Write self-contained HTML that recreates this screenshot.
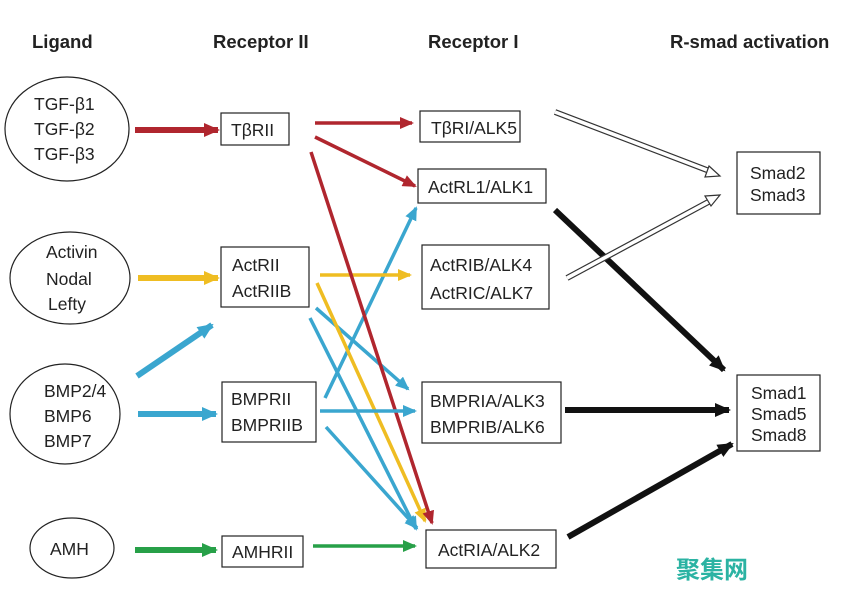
<!DOCTYPE html>
<html><head><meta charset="utf-8"><style>
body{margin:0;background:#fff}
svg text{font-family:"Liberation Sans",Arial,sans-serif;fill:#222}
</style></head><body>
<svg width="856" height="589" viewBox="0 0 856 589" xmlns="http://www.w3.org/2000/svg">
<defs>
<marker id="r" markerUnits="userSpaceOnUse" markerWidth="14" markerHeight="12" refX="12" refY="6" orient="auto"><path d="M0,0L14,6L0,12z" fill="#b0262e"/></marker>
<marker id="y" markerUnits="userSpaceOnUse" markerWidth="14" markerHeight="12" refX="12" refY="6" orient="auto"><path d="M0,0L14,6L0,12z" fill="#efbd22"/></marker>
<marker id="c" markerUnits="userSpaceOnUse" markerWidth="14" markerHeight="12" refX="12" refY="6" orient="auto"><path d="M0,0L14,6L0,12z" fill="#3aa6cf"/></marker>
<marker id="g" markerUnits="userSpaceOnUse" markerWidth="14" markerHeight="12" refX="12" refY="6" orient="auto"><path d="M0,0L14,6L0,12z" fill="#27a048"/></marker>
<marker id="k" markerUnits="userSpaceOnUse" markerWidth="16" markerHeight="14" refX="14" refY="7" orient="auto"><path d="M0,0L16,7L0,14z" fill="#111"/></marker>
<marker id="r2" markerUnits="userSpaceOnUse" markerWidth="16" markerHeight="14" refX="14" refY="7" orient="auto"><path d="M0,0L16,7L0,14z" fill="#b0262e"/></marker>
<marker id="y2" markerUnits="userSpaceOnUse" markerWidth="16" markerHeight="14" refX="14" refY="7" orient="auto"><path d="M0,0L16,7L0,14z" fill="#efbd22"/></marker>
<marker id="c2" markerUnits="userSpaceOnUse" markerWidth="16" markerHeight="14" refX="14" refY="7" orient="auto"><path d="M0,0L16,7L0,14z" fill="#3aa6cf"/></marker>
<marker id="g2" markerUnits="userSpaceOnUse" markerWidth="16" markerHeight="14" refX="14" refY="7" orient="auto"><path d="M0,0L16,7L0,14z" fill="#27a048"/></marker>
</defs>
<g font-weight="bold" font-size="18.5">
<text x="32" y="48">Ligand</text>
<text x="213" y="48">Receptor II</text>
<text x="428" y="48">Receptor I</text>
<text x="670" y="48">R-smad activation</text>
</g>
<g fill="none" stroke="#222" stroke-width="1.2">
<ellipse cx="67" cy="129" rx="62" ry="52"/>
<ellipse cx="70" cy="278" rx="60" ry="46"/>
<ellipse cx="65" cy="414" rx="55" ry="50"/>
<ellipse cx="72" cy="548" rx="42" ry="30"/>
<rect x="221" y="113" width="68" height="32"/>
<rect x="221" y="247" width="88" height="60"/>
<rect x="222" y="382" width="94" height="60"/>
<rect x="222" y="536" width="81" height="31"/>
<rect x="420" y="111" width="100" height="31"/>
<rect x="418" y="169" width="128" height="34"/>
<rect x="422" y="245" width="127" height="64"/>
<rect x="422" y="382" width="139" height="61"/>
<rect x="426" y="530" width="130" height="38"/>
<rect x="737" y="152" width="83" height="62"/>
<rect x="737" y="375" width="83" height="76"/>
</g>
<g font-size="17.5">
<text x="34" y="110">TGF-β1</text><text x="34" y="135">TGF-β2</text><text x="34" y="160">TGF-β3</text>
<text x="46" y="258">Activin</text><text x="46" y="285">Nodal</text><text x="48" y="310">Lefty</text>
<text x="44" y="397">BMP2/4</text><text x="44" y="422">BMP6</text><text x="44" y="447">BMP7</text>
<text x="50" y="555">AMH</text>
<text x="231" y="136">TβRII</text>
<text x="232" y="271">ActRII</text><text x="232" y="297">ActRIIB</text>
<text x="231" y="405">BMPRII</text><text x="231" y="431">BMPRIIB</text>
<text x="232" y="558">AMHRII</text>
<text x="431" y="134">TβRI/ALK5</text>
<text x="428" y="193">ActRL1/ALK1</text>
<text x="430" y="271">ActRIB/ALK4</text><text x="430" y="299">ActRIC/ALK7</text>
<text x="430" y="407">BMPRIA/ALK3</text><text x="430" y="433">BMPRIB/ALK6</text>
<text x="438" y="556">ActRIA/ALK2</text>
<text x="750" y="179">Smad2</text><text x="750" y="201">Smad3</text>
<text x="751" y="399">Smad1</text><text x="751" y="420">Smad5</text><text x="751" y="441">Smad8</text>
</g>
<g fill="none">
<line x1="135" y1="130" x2="218" y2="130" stroke="#b0262e" stroke-width="6" marker-end="url(#r2)"/>
<line x1="138" y1="278" x2="218" y2="278" stroke="#efbd22" stroke-width="6" marker-end="url(#y2)"/>
<line x1="137" y1="376" x2="212" y2="325" stroke="#3aa6cf" stroke-width="6" marker-end="url(#c2)"/>
<line x1="138" y1="414" x2="216" y2="414" stroke="#3aa6cf" stroke-width="6" marker-end="url(#c2)"/>
<line x1="135" y1="550" x2="216" y2="550" stroke="#27a048" stroke-width="6" marker-end="url(#g2)"/>
<g stroke-width="3.5">
<line x1="315" y1="123" x2="412" y2="123" stroke="#b0262e" marker-end="url(#r)"/>
<line x1="315" y1="137" x2="415" y2="186" stroke="#b0262e" marker-end="url(#r)"/>
<line x1="325" y1="398" x2="416" y2="208" stroke="#3aa6cf" marker-end="url(#c)"/>
<line x1="320" y1="275" x2="410" y2="275" stroke="#efbd22" marker-end="url(#y)"/>
<line x1="316" y1="308" x2="408" y2="389" stroke="#3aa6cf" marker-end="url(#c)"/>
<line x1="310" y1="318" x2="416" y2="529" stroke="#3aa6cf" marker-end="url(#c)"/>
<line x1="317" y1="283" x2="425" y2="521" stroke="#efbd22" marker-end="url(#y)"/>
<line x1="311" y1="152" x2="432" y2="523" stroke="#b0262e" marker-end="url(#r)"/>
<line x1="320" y1="411" x2="415" y2="411" stroke="#3aa6cf" marker-end="url(#c)"/>
<line x1="326" y1="427" x2="417" y2="528" stroke="#3aa6cf" marker-end="url(#c)"/>
<line x1="313" y1="546" x2="415" y2="546" stroke="#27a048" marker-end="url(#g)"/>
</g>
<g stroke-width="6" stroke="#111">
<line x1="555" y1="210" x2="724" y2="370" marker-end="url(#k)"/>
<line x1="565" y1="410" x2="729" y2="410" marker-end="url(#k)"/>
<line x1="568" y1="537" x2="732" y2="444" marker-end="url(#k)"/>
</g>
<g>
<line x1="555" y1="112" x2="712" y2="172" stroke="#333" stroke-width="6"/>
<line x1="555" y1="112" x2="712" y2="172" stroke="#fff" stroke-width="3.6"/>
<path d="M709,166 L720,176 L705,177 Z" fill="#fff" stroke="#333" stroke-width="1.2"/>
<line x1="567" y1="278" x2="712" y2="200" stroke="#333" stroke-width="6"/>
<line x1="567" y1="278" x2="712" y2="200" stroke="#fff" stroke-width="3.6"/>
<path d="M705,196 L720,195 L711,206 Z" fill="#fff" stroke="#333" stroke-width="1.2"/>
</g>
</g>
<text x="676" y="578" font-size="24" font-weight="bold" style="fill:#2bb3a3;font-family:'Noto Sans CJK SC',sans-serif">聚集网</text>
</svg>
</body></html>
